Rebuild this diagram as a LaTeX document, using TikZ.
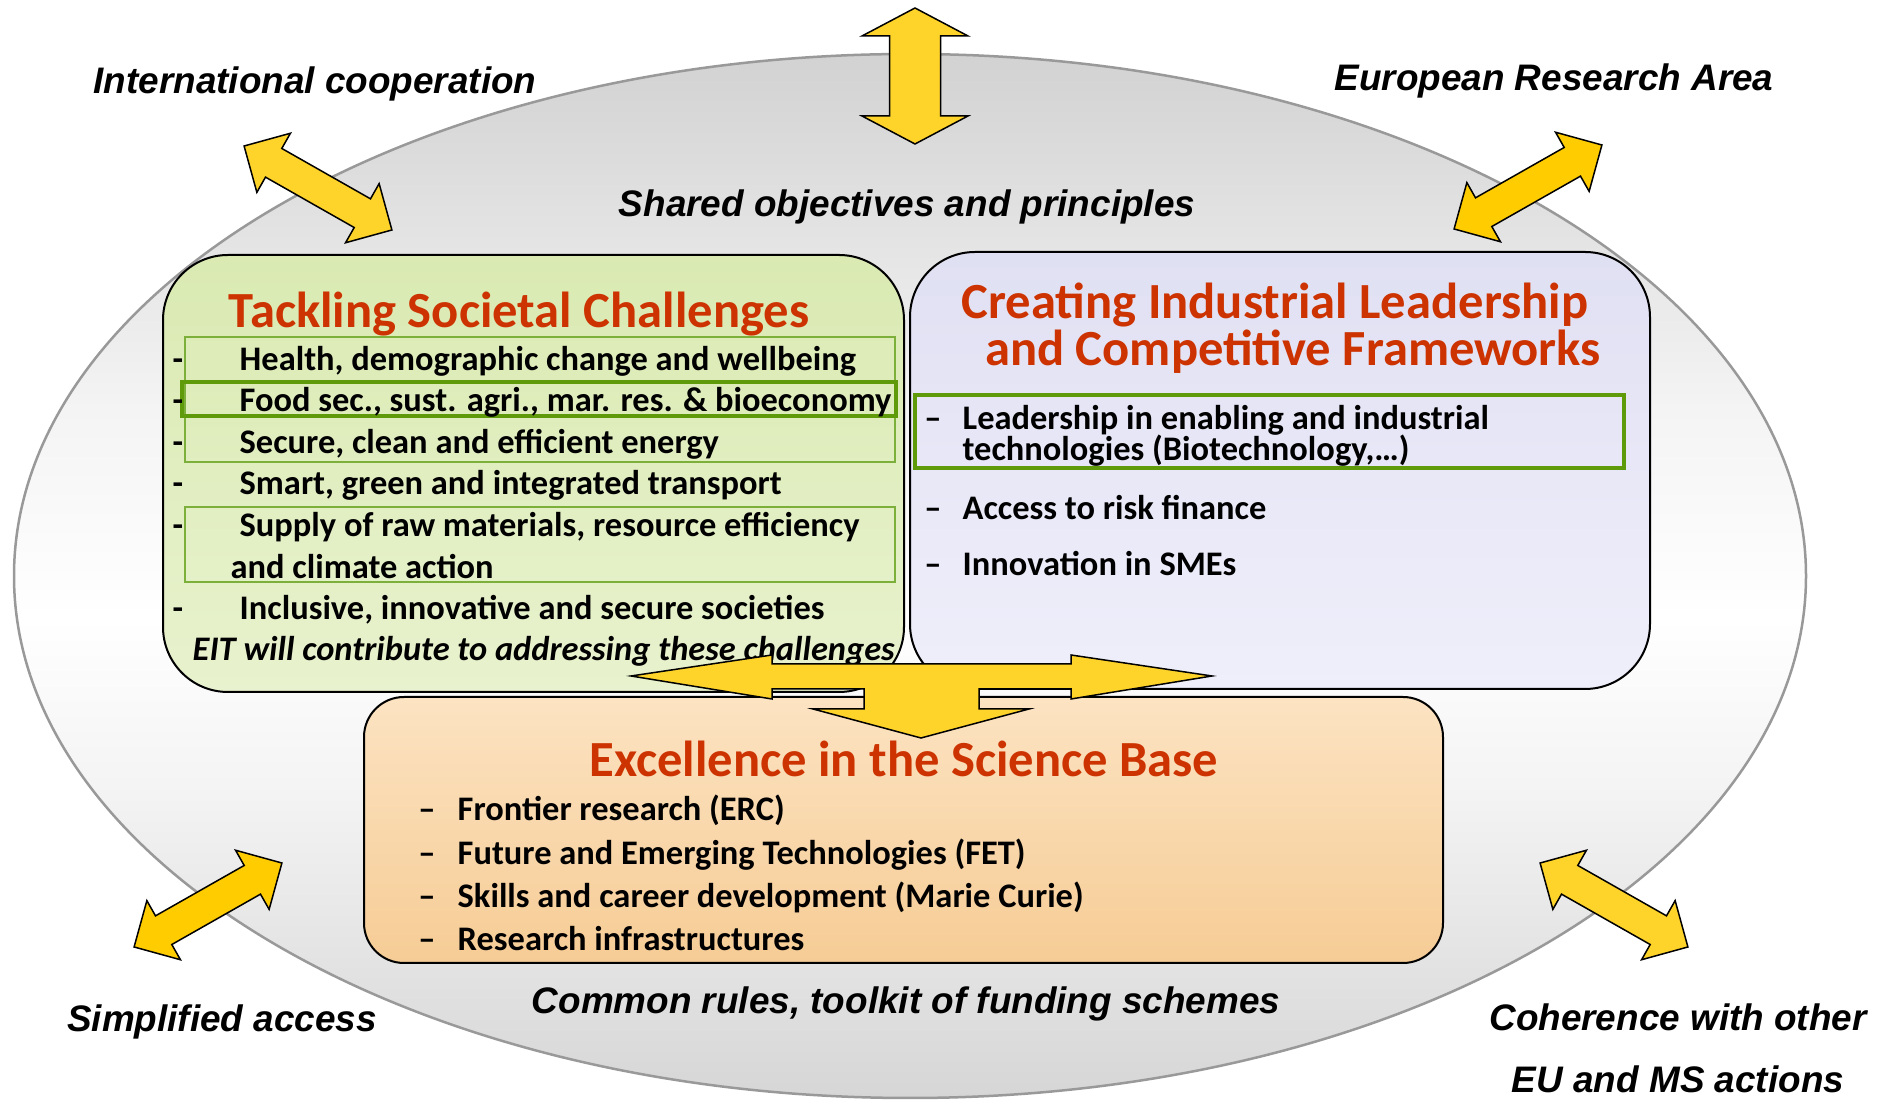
\documentclass[tikz,border=0pt]{standalone}
\usepackage{fontspec}
\setmainfont{Carlito}
\newfontfamily\labelfont{Liberation Sans}
\usetikzlibrary{positioning}

\definecolor{ringgray}{HTML}{D2D2D2}
\definecolor{ringlow}{HTML}{D6D6D6}
\definecolor{ringpale}{HTML}{F4F4F4}
\definecolor{ringline}{HTML}{999999}
\definecolor{titlered}{HTML}{CC3300}
\definecolor{framegreen}{HTML}{5F9A0A}
\definecolor{thingreen}{HTML}{7DB03A}
\definecolor{greentop}{HTML}{DAEAB2}
\definecolor{greenbot}{HTML}{E8F2CE}
\definecolor{bluetop}{HTML}{E0E0F3}
\definecolor{bluebot}{HTML}{EFEFFB}
\definecolor{orangetop}{HTML}{FCE3C2}
\definecolor{orangebot}{HTML}{F6CC95}
\definecolor{arrowyellow}{HTML}{FFD42A}
\definecolor{arrowgold}{HTML}{FFCC00}

\pgfdeclareverticalshading{ringshade}{100bp}{color(0bp)=(ringlow); color(25bp)=(ringlow);
  color(40bp)=(ringpale); color(48bp)=(white); color(58bp)=(ringpale); color(75bp)=(ringgray);
  color(100bp)=(ringgray)}

\tikzset{
  outerlabel/.style={font=\labelfont\bfseries\itshape\fontsize{10.5}{12.6}\selectfont, inner sep=0pt},
  boxtitle/.style={font=\bfseries\fontsize{14.4}{17}\selectfont, text=titlered, inner sep=0pt},
  itemtext/.style={font=\bfseries\fontsize{9.8}{12}\selectfont, anchor=west, inner sep=0pt, text height=8pt, text depth=1pt},
  dashmark/.style={itemtext, anchor=center},
  panel/.style={draw=black, line width=0.2mm, rounded corners=6.5mm},
  thinframe/.style={draw=thingreen, line width=0.15mm},
  thickframe/.style={draw=framegreen, line width=0.45mm},
  arrowline/.style={draw=black, line width=0.15mm, line join=miter},
  pics/twohead/.style n args={5}{code={%
    \draw[arrowline, fill=#5] (-#1,0) -- (-#1+#2,#3) -- (-#1+#2,#4) -- (#1-#2,#4)
      -- (#1-#2,#3) -- (#1,0) -- (#1-#2,-#3) -- (#1-#2,-#4) -- (-#1+#2,-#4)
      -- (-#1+#2,-#3) -- cycle;
  }}
}

\begin{document}
\begin{tikzpicture}[x=0.1mm, y=-0.1mm]
\useasboundingbox (0,0) rectangle (1888,1100);

% outer ring
\shadedraw[shading=ringshade, draw=ringline, line width=0.25mm]
  (910,576) ellipse [x radius=896, y radius=522];

% panels
\shadedraw[panel, top color=greentop, bottom color=greenbot] (163,255) rectangle (904,692);
\shadedraw[panel, top color=bluetop, bottom color=bluebot] (910,252) rectangle (1650,689);
\shadedraw[panel, rounded corners=4mm, top color=orangetop, bottom color=orangebot] (364,697) rectangle (1443,963);

% frames round the items
\draw[thinframe] (185,337) rectangle (895,462);
\draw[thinframe] (185,507) rectangle (895,582);
\draw[thickframe] (182,382) rectangle (896,416);
\draw[thickframe] (915,395) rectangle (1624,468);

% societal challenges
\node[boxtitle] (soctitle) at (519,314) {Tackling Societal Challenges};
\node[dashmark] (sd1) at (178,358) {-};
\node[dashmark] (sd2) at (178,399) {-};
\node[dashmark] (sd3) at (178,441) {-};
\node[dashmark] (sd4) at (178,482) {-};
\node[dashmark] (sd5) at (178,524) {-};
\node[dashmark] (sd6) at (178,607) {-};
\node[itemtext] (soc1) at (239,358) {Health, demographic change and wellbeing};
\node[itemtext] (soc2) at (239,399) {Food sec., sust. agri., mar. res. \& bioeconomy};
\node[itemtext] (soc3) at (239,441) {Secure, clean and efficient energy};
\node[itemtext] (soc4) at (239,482) {Smart, green and integrated transport};
\node[itemtext] (soc5) at (239,524) {Supply of raw materials, resource efficiency};
\node[itemtext] (soc5b) at (230,566) {and climate action};
\node[itemtext] (soc6) at (239,607) {Inclusive, innovative and secure societies};
\node[itemtext, font=\bfseries\itshape\fontsize{9.8}{12}\selectfont] (eit) at (192,648) {EIT will contribute to addressing these challenges};

% industrial leadership
\node[boxtitle] (indtitle1) at (1275,305) {Creating Industrial Leadership};
\node[boxtitle] (indtitle2) at (1293,352) {and Competitive Frameworks};
\node[dashmark] (id1) at (933,417) {--};
\node[dashmark] (id2) at (933,507) {--};
\node[dashmark] (id3) at (933,563) {--};
\node[itemtext] (ind1) at (962,417) {Leadership in enabling and industrial};
\node[itemtext] (ind1b) at (962,448) {technologies (Biotechnology,\dots)};
\node[itemtext] (ind2) at (962,507) {Access to risk finance};
\node[itemtext] (ind3) at (962,563) {Innovation in SMEs};

% science base
\node[boxtitle] (scititle) at (904,759) {Excellence in the Science Base};
\node[dashmark] (xd1) at (427,808) {--};
\node[dashmark] (xd2) at (427,852) {--};
\node[dashmark] (xd3) at (427,895) {--};
\node[dashmark] (xd4) at (427,938) {--};
\node[itemtext] (sci1) at (457,808) {Frontier research (ERC)};
\node[itemtext] (sci2) at (457,852) {Future and Emerging Technologies (FET)};
\node[itemtext] (sci3) at (457,895) {Skills and career development (Marie Curie)};
\node[itemtext] (sci4) at (457,938) {Research infrastructures};

% outer labels
\node[outerlabel] (intl) at (315,84) {International cooperation};
\node[outerlabel] (era) at (1554,81) {European Research Area};
\node[outerlabel] (shared) at (907,207) {Shared objectives and principles};
\node[outerlabel] (rules) at (906,1004) {Common rules, toolkit of funding schemes};
\node[outerlabel] (simple) at (222,1022) {Simplified access};
\node[outerlabel] (coher) at (1678,1017) {Coherence with other};
\node[outerlabel] (eums) at (1678,1079) {EU and MS actions};

% arrows
\pic[rotate=90] at (915,76) {twohead={68}{28}{53}{25.5}{arrowyellow}};
\pic[rotate=-29.6] at (318,188) {twohead={85}{34}{34}{16.5}{arrowyellow}};
\pic[rotate=29.6] at (1528,187) {twohead={85}{34}{34}{16.5}{arrowgold}};
\pic[rotate=29.6] at (208,905) {twohead={85}{34}{34}{16.5}{arrowgold}};
\pic[rotate=-29.6] at (1614,905) {twohead={85}{34}{34}{16.5}{arrowyellow}};
\draw[arrowline, fill=arrowyellow] (631,676) -- (772,655) -- (772,664) -- (1071,664)
  -- (1071,655) -- (1212,676) -- (1071,699) -- (1071,689) -- (979,689) -- (979,709)
  -- (1029,709) -- (921,738) -- (813,709) -- (864,709) -- (864,689) -- (772,689)
  -- (772,699) -- cycle;
\end{tikzpicture}
\end{document}
